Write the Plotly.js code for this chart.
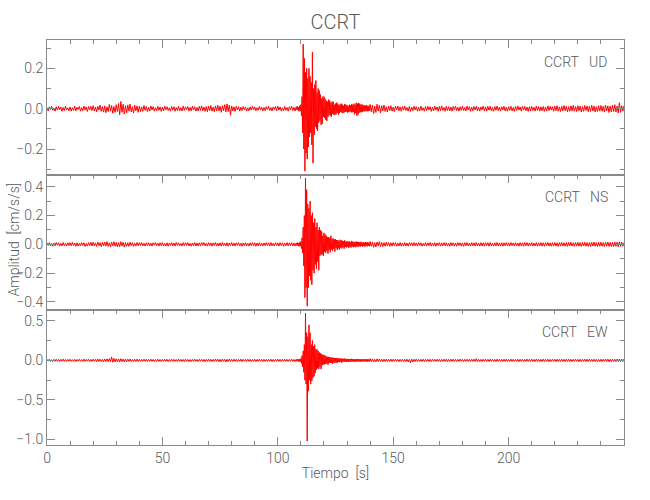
<!DOCTYPE html>
<html>
<head>
<meta charset="utf-8">
<script src="https://cdn.plot.ly/plotly-3.0.1.min.js"></script>
<style>html,body{margin:0;padding:0;background:#fff;}#chart{width:650px;height:500px;}</style>
</head>
<body>
<div id="chart"></div>
<script>
// Sampling of the three segments (seconds)
var noiseAStart = 0,   noiseAStep = 0.5;
var eventStart  = 108, eventStep  = 0.25;
var noiseBStart = 140, noiseBStep = 0.5;

var stationName = "CCRT";
var componentNames = ["UD", "NS", "EW"];
var xTickVals = [0, 50, 100, 150, 200];

// ---- UD ----
var udNoiseA = [
0.006,-0.011,0.009,-0.004,0.012,-0.008,0.003,-0.012,0.01,-0.007,
0.011,-0.005,0.008,-0.013,0.006,-0.009,0.012,-0.006,0.004,-0.01,
0.009,-0.012,0.005,-0.008,0.013,-0.01,0.007,-0.004,0.011,-0.012,
0.006,-0.01,0.013,-0.007,0.009,-0.014,0.011,-0.005,0.012,-0.009,
0.015,-0.01,0.008,-0.016,0.012,-0.007,0.018,-0.013,0.01,-0.017,
0.014,-0.02,0.009,-0.015,0.021,-0.012,0.016,-0.022,0.011,-0.018,
0.02,-0.014,0.026,-0.03,0.036,-0.018,0.022,-0.027,0.015,-0.02,
0.019,-0.012,0.023,-0.016,0.01,-0.021,0.017,-0.011,0.014,-0.018,
0.012,-0.015,0.009,-0.013,0.016,-0.008,0.011,-0.014,0.007,-0.012,
0.013,-0.006,0.01,-0.012,0.005,-0.011,0.012,-0.008,0.009,-0.013,
0.008,-0.011,0.012,-0.005,0.01,-0.009,0.004,-0.012,0.011,-0.007,
0.01,-0.013,0.006,-0.009,0.012,-0.01,0.005,-0.011,0.013,-0.008,
0.009,-0.005,0.011,-0.012,0.007,-0.01,0.013,-0.006,0.01,-0.012,
0.006,-0.011,0.012,-0.008,0.014,-0.01,0.008,-0.013,0.011,-0.015,
0.013,-0.009,0.016,-0.012,0.008,-0.015,0.014,-0.011,0.017,-0.01,
0.012,-0.018,0.015,-0.01,0.02,-0.016,0.024,-0.014,0.018,-0.032,
0.014,-0.011,0.009,-0.013,0.012,-0.006,0.01,-0.012,0.007,-0.009,
0.011,-0.005,0.008,-0.011,0.004,-0.01,0.009,-0.007,0.012,-0.006,
0.009,-0.01,0.005,-0.008,0.011,-0.006,0.008,-0.011,0.006,-0.009,
0.01,-0.004,0.012,-0.009,0.006,-0.011,0.009,-0.005,0.011,-0.01,
0.012,-0.007,0.009,-0.012,0.005,-0.01,0.011,-0.008,0.006,-0.012,
0.01,-0.006,0.012,-0.009,0.007,-0.011];
var udEvent = [
0.01,-0.006,0.012,-0.009,  0.008,-0.013,0.015,-0.01,  0.02,-0.035,0.06,-0.12,
0.32,-0.2,0.25,-0.31,      0.18,-0.22,0.2,-0.25,      0.15,-0.19,0.2,-0.14,
0.16,-0.12,0.13,-0.18,     0.28,-0.27,0.1,-0.13,      0.12,-0.09,0.14,-0.1,
0.08,-0.11,0.1,-0.07,      0.09,-0.06,0.07,-0.08,     0.05,-0.075,0.06,-0.04,
0.06,-0.045,0.05,-0.055,   0.04,-0.06,0.035,-0.04,    0.045,-0.03,0.04,-0.035,
0.03,-0.04,0.035,-0.025,   0.035,-0.03,0.02,-0.03,    0.025,-0.028,0.03,-0.02,
0.025,-0.03,0.018,-0.022,  0.022,-0.015,0.025,-0.02,  0.02,-0.022,0.015,-0.018,
0.024,-0.016,0.02,-0.014,  0.018,-0.02,0.012,-0.016,  0.02,-0.014,0.016,-0.018,
0.022,-0.018,0.02,-0.015,  0.025,-0.028,0.02,-0.022,  0.03,-0.035,0.025,-0.03,
0.028,-0.02,0.025,-0.018,  0.02,-0.015,0.022,-0.017,  0.018,-0.012,0.016,-0.014,
0.015,-0.011,0.017,-0.013, 0.014,-0.012,0.015,-0.01];
var udNoiseB = [
0.021,-0.015,0.018,-0.024,0.013,-0.019,0.022,-0.012,0.017,-0.02,
0.015,-0.011,0.018,-0.014,0.01,-0.016,0.013,-0.009,0.015,-0.012,
0.008,-0.014,0.012,-0.006,0.013,-0.01,0.009,-0.013,0.011,-0.007,
0.014,-0.009,0.006,-0.012,0.011,-0.014,0.008,-0.01,0.012,-0.006,
0.01,-0.012,0.007,-0.011,0.013,-0.008,0.005,-0.012,0.011,-0.009,
0.012,-0.006,0.01,-0.013,0.008,-0.011,0.013,-0.007,0.009,-0.012,
0.011,-0.01,0.014,-0.008,0.006,-0.013,0.012,-0.009,0.01,-0.011,
0.008,-0.012,0.011,-0.005,0.013,-0.01,0.007,-0.012,0.01,-0.008,
0.012,-0.009,0.006,-0.011,0.013,-0.007,0.01,-0.013,0.008,-0.01,
0.011,-0.006,0.012,-0.01,0.007,-0.012,0.009,-0.005,0.013,-0.011,
0.009,-0.012,0.011,-0.007,0.012,-0.01,0.006,-0.013,0.011,-0.008,
0.013,-0.009,0.008,-0.012,0.01,-0.006,0.012,-0.011,0.007,-0.012,
0.01,-0.008,0.012,-0.011,0.006,-0.013,0.011,-0.009,0.013,-0.007,
0.009,-0.012,0.011,-0.006,0.012,-0.01,0.008,-0.013,0.01,-0.011,
0.012,-0.009,0.007,-0.012,0.013,-0.008,0.011,-0.012,0.009,-0.01,
0.011,-0.013,0.008,-0.011,0.014,-0.009,0.012,-0.007,0.01,-0.013,
0.013,-0.01,0.015,-0.012,0.009,-0.014,0.012,-0.011,0.016,-0.009,
0.012,-0.015,0.01,-0.013,0.014,-0.011,0.017,-0.012,0.011,-0.014,
0.015,-0.01,0.013,-0.016,0.011,-0.013,0.016,-0.009,0.014,-0.015,
0.012,-0.014,0.017,-0.011,0.013,-0.016,0.01,-0.014,0.015,-0.012,
0.016,-0.013,0.012,-0.017,0.018,-0.011,0.014,-0.019,0.013,-0.015,
0.017,-0.014,0.02,-0.016,0.013,-0.021,0.03,-0.018,0.015,-0.012,
0.014];

// ---- NS ----
var nsNoiseA = [
0.01,-0.007,0.012,-0.011,0.006,-0.013,0.009,-0.01,0.013,-0.006,
0.011,-0.012,0.008,-0.01,0.013,-0.009,0.006,-0.012,0.011,-0.008,
0.012,-0.01,0.014,-0.007,0.009,-0.013,0.011,-0.012,0.007,-0.011,
0.013,-0.008,0.011,-0.014,0.006,-0.012,0.012,-0.009,0.014,-0.011,
0.015,-0.011,0.01,-0.014,0.017,-0.009,0.012,-0.016,0.013,-0.01,
0.016,-0.012,0.019,-0.014,0.011,-0.017,0.015,-0.01,0.018,-0.013,
0.014,-0.018,0.012,-0.016,0.019,-0.011,0.015,-0.019,0.013,-0.012,
0.011,-0.014,0.015,-0.009,0.012,-0.013,0.008,-0.012,0.013,-0.01,
0.012,-0.009,0.013,-0.011,0.007,-0.012,0.011,-0.008,0.012,-0.011,
0.009,-0.012,0.011,-0.006,0.013,-0.01,0.008,-0.012,0.011,-0.009,
0.012,-0.01,0.006,-0.012,0.011,-0.013,0.009,-0.008,0.012,-0.011,
0.01,-0.012,0.013,-0.007,0.011,-0.01,0.006,-0.012,0.012,-0.009,
0.011,-0.008,0.012,-0.011,0.007,-0.013,0.01,-0.009,0.013,-0.011,
0.009,-0.012,0.011,-0.01,0.013,-0.007,0.012,-0.011,0.008,-0.012,
0.012,-0.009,0.01,-0.013,0.011,-0.008,0.013,-0.012,0.009,-0.011,
0.011,-0.012,0.013,-0.009,0.008,-0.011,0.012,-0.013,0.01,-0.008,
0.013,-0.011,0.009,-0.012,0.011,-0.007,0.012,-0.01,0.008,-0.013,
0.01,-0.009,0.012,-0.011,0.007,-0.012,0.011,-0.008,0.013,-0.01,
0.011,-0.013,0.009,-0.01,0.012,-0.011,0.008,-0.012,0.01,-0.009,
0.012,-0.008,0.011,-0.012,0.013,-0.01,0.007,-0.011,0.012,-0.009,
0.01,-0.012,0.012,-0.008,0.011,-0.013,0.009,-0.01,0.013,-0.011,
0.011,-0.009,0.012,-0.011,0.01,-0.012];
var nsEvent = [
0.01,-0.008,0.012,-0.01,   0.009,-0.014,0.015,-0.012, 0.02,-0.03,0.045,-0.06,
0.12,-0.15,0.2,-0.37,      0.46,-0.3,0.38,-0.43,      0.28,-0.3,0.25,-0.22,
0.3,-0.25,0.2,-0.28,       0.22,-0.18,0.15,-0.2,      0.18,-0.14,0.12,-0.17,
0.15,-0.12,0.1,-0.18,      0.12,-0.08,0.1,-0.07,      0.09,-0.07,0.06,-0.08,
0.08,-0.05,0.07,-0.06,     0.06,-0.045,0.05,-0.065,   0.05,-0.04,0.045,-0.055,
0.06,-0.035,0.04,-0.045,   0.04,-0.03,0.035,-0.05,    0.035,-0.025,0.03,-0.04,
0.03,-0.028,0.025,-0.035,  0.032,-0.022,0.028,-0.028, 0.025,-0.02,0.022,-0.03,
0.028,-0.018,0.02,-0.022,  0.022,-0.016,0.02,-0.025,  0.02,-0.018,0.015,-0.022,
0.024,-0.014,0.018,-0.02,  0.018,-0.015,0.016,-0.02,  0.02,-0.013,0.017,-0.018,
0.017,-0.012,0.014,-0.016, 0.018,-0.011,0.013,-0.015, 0.015,-0.012,0.012,-0.016,
0.016,-0.01,0.013,-0.014,  0.015,-0.011,0.012,-0.013];
var nsNoiseB = [
0.019,-0.013,0.017,-0.02,0.012,-0.018,0.016,-0.011,0.018,-0.015,
0.014,-0.016,0.012,-0.013,0.015,-0.01,0.013,-0.014,0.011,-0.012,
0.013,-0.009,0.012,-0.013,0.008,-0.011,0.013,-0.012,0.01,-0.012,
0.012,-0.011,0.009,-0.013,0.012,-0.008,0.011,-0.012,0.013,-0.01,
0.01,-0.012,0.013,-0.009,0.011,-0.013,0.007,-0.011,0.012,-0.012,
0.011,-0.009,0.013,-0.012,0.009,-0.011,0.012,-0.013,0.01,-0.008,
0.012,-0.012,0.01,-0.011,0.013,-0.009,0.011,-0.012,0.008,-0.013,
0.013,-0.01,0.011,-0.012,0.009,-0.013,0.012,-0.008,0.011,-0.012,
0.01,-0.013,0.012,-0.009,0.013,-0.011,0.008,-0.012,0.012,-0.01,
0.011,-0.012,0.013,-0.01,0.009,-0.012,0.012,-0.011,0.01,-0.013,
0.012,-0.009,0.011,-0.013,0.013,-0.01,0.008,-0.012,0.011,-0.011,
0.013,-0.011,0.009,-0.012,0.012,-0.013,0.011,-0.009,0.012,-0.01,
0.011,-0.012,0.013,-0.008,0.01,-0.012,0.012,-0.011,0.009,-0.013,
0.012,-0.01,0.011,-0.013,0.013,-0.009,0.012,-0.012,0.01,-0.011,
0.013,-0.012,0.009,-0.011,0.012,-0.013,0.011,-0.01,0.013,-0.012,
0.011,-0.013,0.012,-0.009,0.014,-0.012,0.01,-0.013,0.012,-0.011,
0.013,-0.012,0.011,-0.014,0.012,-0.01,0.014,-0.012,0.011,-0.013,
0.012,-0.014,0.013,-0.011,0.015,-0.012,0.011,-0.014,0.013,-0.012,
0.014,-0.012,0.012,-0.015,0.013,-0.011,0.015,-0.013,0.012,-0.014,
0.013,-0.015,0.014,-0.012,0.016,-0.013,0.012,-0.015,0.014,-0.013,
0.015,-0.013,0.013,-0.016,0.014,-0.012,0.016,-0.014,0.013,-0.015,
0.014,-0.016,0.017,-0.013,0.015,-0.017,0.018,-0.014,0.016,-0.013,
0.012];

// ---- EW ----
var ewNoiseA = [
0.014,-0.01,0.015,-0.013,0.009,-0.016,0.013,-0.011,0.015,-0.012,
0.012,-0.015,0.014,-0.009,0.016,-0.013,0.011,-0.014,0.013,-0.01,
0.015,-0.012,0.01,-0.014,0.013,-0.015,0.012,-0.009,0.014,-0.013,
0.011,-0.014,0.016,-0.012,0.013,-0.01,0.015,-0.014,0.012,-0.013,
0.016,-0.011,0.014,-0.017,0.018,-0.012,0.015,-0.016,0.013,-0.018,
0.017,-0.014,0.02,-0.016,0.022,-0.018,0.042,-0.024,0.025,-0.02,
0.02,-0.015,0.018,-0.021,0.022,-0.014,0.017,-0.02,0.015,-0.018,
0.016,-0.013,0.018,-0.015,0.012,-0.017,0.015,-0.012,0.016,-0.014,
0.014,-0.015,0.012,-0.013,0.016,-0.011,0.014,-0.015,0.013,-0.012,
0.015,-0.012,0.013,-0.016,0.011,-0.014,0.016,-0.013,0.012,-0.015,
0.013,-0.014,0.015,-0.011,0.014,-0.016,0.012,-0.013,0.015,-0.012,
0.014,-0.013,0.011,-0.015,0.016,-0.012,0.013,-0.014,0.012,-0.016,
0.015,-0.012,0.013,-0.014,0.011,-0.015,0.014,-0.013,0.016,-0.011,
0.012,-0.015,0.014,-0.012,0.015,-0.014,0.013,-0.016,0.012,-0.013,
0.016,-0.013,0.014,-0.015,0.012,-0.014,0.017,-0.012,0.015,-0.016,
0.014,-0.018,0.016,-0.013,0.015,-0.02,0.013,-0.016,0.017,-0.014,
0.013,-0.014,0.015,-0.012,0.014,-0.015,0.012,-0.013,0.016,-0.014,
0.014,-0.012,0.013,-0.015,0.015,-0.011,0.014,-0.016,0.012,-0.013,
0.015,-0.014,0.012,-0.013,0.016,-0.012,0.013,-0.015,0.014,-0.012,
0.013,-0.015,0.014,-0.011,0.015,-0.014,0.012,-0.016,0.014,-0.013,
0.016,-0.012,0.013,-0.015,0.014,-0.013,0.015,-0.012,0.013,-0.014,
0.014,-0.013,0.015,-0.014,0.013,-0.016];
var ewEvent = [
0.013,-0.01,0.015,-0.012,  0.012,-0.016,0.018,-0.015, 0.025,-0.04,0.06,-0.08,
0.12,-0.15,0.2,-0.25,      0.6,-0.3,0.35,-1.02,       0.3,-0.39,0.45,-0.25,
0.35,-0.3,0.2,-0.26,       0.25,-0.22,0.18,-0.2,      0.2,-0.16,0.14,-0.12,
0.14,-0.1,0.12,-0.11,      0.1,-0.08,0.09,-0.11,      0.08,-0.06,0.07,-0.05,
0.07,-0.05,0.06,-0.045,    0.05,-0.04,0.045,-0.055,   0.045,-0.035,0.04,-0.03,
0.04,-0.03,0.035,-0.045,   0.035,-0.025,0.03,-0.03,   0.03,-0.025,0.028,-0.035,
0.028,-0.02,0.025,-0.022,  0.025,-0.018,0.022,-0.028, 0.022,-0.016,0.02,-0.02,
0.024,-0.015,0.018,-0.02,  0.02,-0.014,0.017,-0.022,  0.018,-0.013,0.016,-0.02,
0.02,-0.012,0.017,-0.017,  0.016,-0.014,0.015,-0.018, 0.018,-0.012,0.014,-0.015,
0.016,-0.013,0.015,-0.017, 0.015,-0.012,0.013,-0.014, 0.016,-0.011,0.014,-0.015,
0.014,-0.012,0.013,-0.016, 0.015,-0.011,0.012,-0.013];
var ewNoiseB = [
0.022,-0.016,0.019,-0.021,0.014,-0.018,0.02,-0.015,0.018,-0.017,
0.016,-0.018,0.015,-0.014,0.017,-0.016,0.014,-0.015,0.016,-0.014,
0.015,-0.013,0.016,-0.015,0.014,-0.016,0.013,-0.014,0.015,-0.016,
0.014,-0.016,0.015,-0.018,0.013,-0.03,0.016,-0.02,0.015,-0.014,
0.016,-0.014,0.013,-0.015,0.014,-0.013,0.015,-0.016,0.013,-0.014,
0.015,-0.013,0.014,-0.015,0.016,-0.012,0.013,-0.014,0.015,-0.013,
0.014,-0.016,0.013,-0.014,0.015,-0.012,0.016,-0.015,0.013,-0.014,
0.015,-0.013,0.016,-0.014,0.012,-0.015,0.014,-0.013,0.016,-0.012,
0.013,-0.015,0.014,-0.012,0.015,-0.014,0.013,-0.016,0.014,-0.013,
0.016,-0.013,0.022,-0.016,0.014,-0.015,0.013,-0.012,0.015,-0.014,
0.014,-0.015,0.013,-0.014,0.016,-0.012,0.014,-0.015,0.013,-0.016,
0.015,-0.012,0.014,-0.016,0.013,-0.014,0.015,-0.013,0.016,-0.015,
0.013,-0.014,0.016,-0.013,0.014,-0.015,0.012,-0.014,0.015,-0.016,
0.014,-0.013,0.015,-0.016,0.013,-0.012,0.016,-0.014,0.014,-0.015,
0.015,-0.014,0.013,-0.015,0.016,-0.013,0.014,-0.016,0.013,-0.014,
0.016,-0.015,0.014,-0.013,0.015,-0.016,0.013,-0.014,0.016,-0.012,
0.014,-0.016,0.015,-0.014,0.013,-0.015,0.016,-0.013,0.014,-0.016,
0.015,-0.013,0.016,-0.015,0.014,-0.016,0.013,-0.014,0.015,-0.013,
0.013,-0.015,0.014,-0.016,0.015,-0.013,0.016,-0.014,0.014,-0.015,
0.016,-0.014,0.013,-0.015,0.015,-0.014,0.014,-0.016,0.013,-0.015,
0.015,-0.016,0.014,-0.013,0.016,-0.015,0.015,-0.017,0.014,-0.016,
0.016,-0.014,0.015,-0.017,0.016,-0.015,0.018,-0.016,0.015,-0.014,
0.018];

function times(start, step, n) { var t = []; for (var i = 0; i < n; i++) t.push(start + i * step); return t; }
function series(a, e, b) {
  return {
    x: times(noiseAStart, noiseAStep, a.length)
        .concat(times(eventStart, eventStep, e.length))
        .concat(times(noiseBStart, noiseBStep, b.length)),
    y: a.concat(e).concat(b)
  };
}
var ud = series(udNoiseA, udEvent, udNoiseB);
var ns = series(nsNoiseA, nsEvent, nsNoiseB);
var ew = series(ewNoiseA, ewEvent, ewNoiseB);

var FONT = "Roboto, 'Liberation Sans', sans-serif";
var AX = "#8a8a8a";
var TXT = "#5a5a5a";
var lineStyle = {color: "#ff0000", width: 1};

var traces = [
  {x: ud.x, y: ud.y, xaxis: "x",  yaxis: "y",  type: "scatter", mode: "lines", line: lineStyle, hoverinfo: "skip"},
  {x: ns.x, y: ns.y, xaxis: "x2", yaxis: "y2", type: "scatter", mode: "lines", line: lineStyle, hoverinfo: "skip"},
  {x: ew.x, y: ew.y, xaxis: "x3", yaxis: "y3", type: "scatter", mode: "lines", line: lineStyle, hoverinfo: "skip"}
];

function xAx(anchor, bottom) {
  var a = {
    anchor: anchor, range: [0, 250], showgrid: false, zeroline: false,
    showline: true, linecolor: AX, linewidth: 1,
    ticks: "inside", ticklen: 8, tickcolor: AX, tickwidth: 1,
    tickvals: xTickVals, ticktext: xTickVals.map(String),
    minor: {dtick: 10, tick0: 0, ticks: "inside", ticklen: 4, tickcolor: AX, tickwidth: 1},
    tickfont: {family: FONT, size: 14, color: TXT, weight: 300}
  };
  if (bottom) {
    a.side = "bottom"; a.mirror = "allticks"; a.showticklabels = true;
    a.title = {text: "Tiempo  [s]", font: {family: FONT, size: 14, color: TXT, weight: 300}, standoff: 3};
  } else {
    a.side = "top"; a.mirror = true; a.showticklabels = false;
  }
  return a;
}
function yAx(range, dtick, minor, domain, anchor) {
  return {
    anchor: anchor, domain: domain, range: range, showgrid: false, zeroline: false,
    showline: true, linecolor: AX, linewidth: 1, mirror: "allticks",
    ticks: "inside", ticklen: 8, tickcolor: AX, tickwidth: 1,
    dtick: dtick, tick0: 0, tickformat: ".1f",
    minor: {dtick: minor, tick0: 0, ticks: "inside", ticklen: 4, tickcolor: AX, tickwidth: 1},
    tickfont: {family: FONT, size: 14, color: TXT, weight: 300}
  };
}

function panelLabel(comp, yPos) {
  return {text: stationName + "\u00a0\u00a0\u00a0" + comp, xref: "paper", yref: "paper",
    x: 0.976, y: yPos, xanchor: "right", yanchor: "middle", showarrow: false,
    font: {family: FONT, size: 14, color: TXT, weight: 300}};
}

var layout = {
  width: 650, height: 500,
  margin: {l: 47, r: 26, t: 40, b: 55},
  paper_bgcolor: "#ffffff", plot_bgcolor: "#ffffff",
  showlegend: false,
  title: {text: stationName, x: 0.5161, xanchor: "center", y: 0.956, yanchor: "middle",
          font: {family: FONT, size: 20, color: TXT, weight: 300}},
  xaxis:  xAx("y", false),
  xaxis2: xAx("y2", false),
  xaxis3: xAx("y3", true),
  yaxis:  yAx([-0.329, 0.341], 0.2, 0.1, [2/3, 1], "x"),
  yaxis2: yAx([-0.456, 0.482], 0.2, 0.1, [1/3, 2/3], "x2"),
  yaxis3: yAx([-1.071, 0.638], 0.5, 0.25, [0, 1/3], "x3"),
  annotations: [
    panelLabel(componentNames[0], 0.946),
    panelLabel(componentNames[1], 0.613),
    panelLabel(componentNames[2], 0.28),
    {text: "Amplitud  [cm/s/s]", xref: "paper", yref: "paper", x: 0, xshift: -34, y: 0.5, yshift: 3,
     textangle: -90, xanchor: "center", yanchor: "middle", showarrow: false,
     font: {family: FONT, size: 14, color: TXT, weight: 300}}
  ]
};

Plotly.newPlot("chart", traces, layout, {displayModeBar: false, staticPlot: true});
</script>
</body>
</html>
